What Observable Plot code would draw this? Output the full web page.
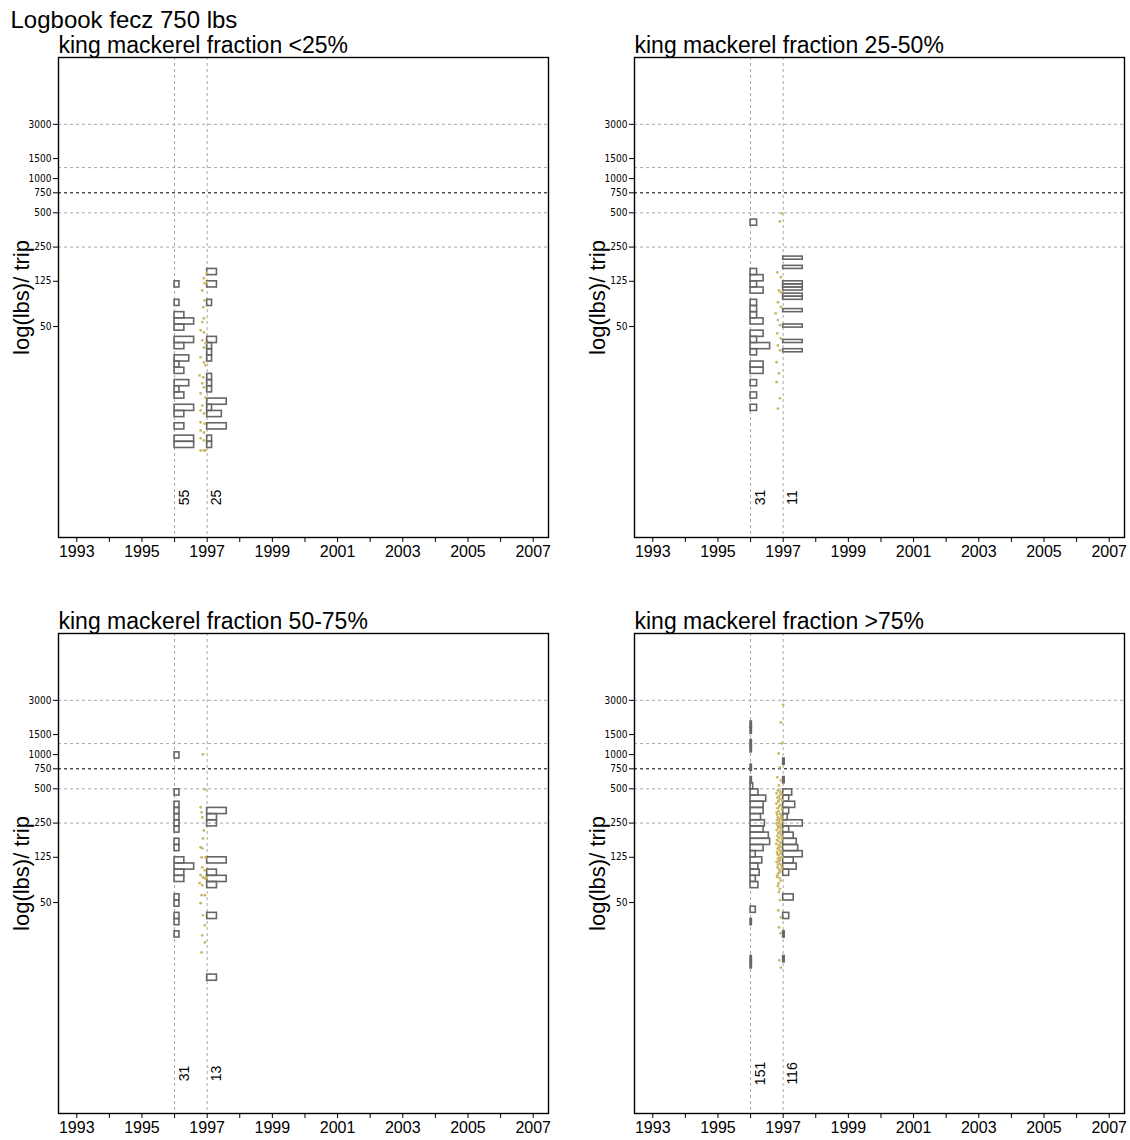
<!DOCTYPE html>
<html><head><meta charset="utf-8">
<script src="https://cdn.jsdelivr.net/npm/d3@7"></script>
<script src="https://cdn.jsdelivr.net/npm/@observablehq/plot@0.6"></script>
<style>
body{margin:0;background:#fff;overflow:hidden;}
#wrap{position:relative;width:1130px;height:1140px;background:#fff;}
.p{position:absolute;}
</style></head><body><div id="wrap"></div>
<script>
// ---------------- data ----------------
const mainTitle = "Logbook fecz 750 lbs";
const yLabel = "log(lbs)/ trip";
const panelTitles = ["king mackerel fraction <25%", "king mackerel fraction 25-50%",
                     "king mackerel fraction 50-75%", "king mackerel fraction >75%"];
const histYears = [1996, 1997];
const xTickYears = [1993,1994,1995,1996,1997,1998,1999,2000,2001,2002,2003,2004,2005,2006,2007];
const yTickValues = [50, 125, 250, 500, 750, 1000, 1500, 3000];
const greyRefLines = [3000, 1250, 500, 250];
const blackRefLine = [750];
const tripCounts = [[55, 25], [31, 11], [31, 13], [151, 116]];

// histogram bins of log(lbs) (natural log): bin width, upper edge of first bin (lbs), counts top -> down
const tl96Bin = 0.125,  tl96Top = 125,    tl96Counts = [1,0,0,1,0,2,4,2,0,4,2,0,3,1,2,0,3,1,2,0,4,2,0,2,0,4,4];
const tl97Bin = 0.125,  tl97Top = 160.5,  tl97Counts = [2,0,2,0,0,1,0,0,0,0,0,2,1,1,1,0,0,1,1,1,0,4,1,3,0,4,0,1,1];
const tr96Bin = 0.125,  tr96Top = 436.3,  tr96Counts = [1,0,0,0,0,0,0,0,1,2,1,2,0,1,1,1,2,0,2,1,3,1,0,2,2,0,1,0,1,0,1];
const tr97Bin = 0.0625, tr97Top = 206.1,  tr97Counts = [1,0,0,1,0,0,0,0,1,1,1,0,1,1,0,0,0,1,0,0,0,0,1,0,0,0,0,1,0,0,1];
const bl96Bin = 0.125,  bl96Top = 1046.6, bl96Counts = [1,0,0,0,0,0,1,0,1,1,1,1,1,0,1,1,0,2,4,2,2,0,0,1,1,0,1,1,0,1];
const bl97Bin = 0.125,  bl97Top = 339.8,  bl97Counts = [2,1,1,0,0,0,0,0,2,0,1,2,1,0,0,0,0,1,0,0,0,0,0,0,0,0,0,1];
const br96Bin = 0.125,  br96Top = 1955.8, br96Counts = [1,1,0,1,1,0,0,1,0,1,2,6,12,10,10,8,11,10,14,15,10,4,9,6,7,4,6,0,0,0,4,0,1,0,0,0,0,0,1,1];
const br97Bin = 0.125,  br97Top = 923.6,  br97Counts = [1,0,0,1,0,6,4,8,4,3,13,4,7,9,10,13,7,9,4,0,0,0,7,0,0,4,0,0,1,0,0,0,1];

// individual trips: [decimal year, lbs]
const tlTrips = [[1996.99,148],[1996.90,133],[1996.99,122],[1996.92,120],[1996.85,104],[1996.92,85],[1996.88,74],[1996.90,59],[1996.85,54.7],[1996.80,46.3],[1996.90,44.4],[1996.85,37.8],[1996.95,35.6],[1996.90,32.7],[1996.80,26.8],[1996.90,24.2],[1996.95,22.8],[1996.77,18.6],[1996.88,17.9],[1996.85,15.8],[1996.90,14.6],[1996.80,12.9],[1996.95,11.9],[1996.85,10.1],[1996.80,9.15],[1996.90,8.6],[1996.80,7.2],[1996.92,7.0],[1996.80,6.1],[1996.90,5.85],[1996.80,5.2],[1996.90,4.98],[1996.80,4.07],[1996.90,4.07],[1996.95,4.07]];
const trTrips = [[1996.90,420],[1996.96,495],[1996.82,150],[1996.93,136],[1996.87,104],[1996.93,100],[1996.84,81.6],[1996.93,74.4],[1996.77,65.4],[1996.84,57],[1996.90,51.5],[1996.82,43.6],[1996.93,39.3],[1996.84,34.1],[1996.90,30.9],[1996.80,24.3],[1996.87,19.4],[1996.80,16.2],[1996.90,11.7],[1996.84,9.5]];
const blTrips = [[1996.87,1005],[1996.93,494],[1996.80,343],[1996.83,311],[1996.85,280],[1996.90,215],[1996.87,183],[1996.80,153],[1996.85,150],[1996.83,125],[1996.95,125],[1996.85,102],[1996.93,96],[1996.80,87],[1996.87,83],[1996.93,81.6],[1996.97,83],[1996.77,74],[1996.85,71],[1996.83,58],[1996.93,58],[1996.80,49.4],[1996.87,38.6],[1996.93,31.5],[1996.85,25.7],[1996.93,22.3],[1996.83,18.2]];
const brTrips = [[1997.00,2740],[1996.93,1921],[1996.96,1256],[1996.86,1025],[1996.90,772],[1996.82,631],[1996.93,593],[1996.87,536],
 [1996.84,485],[1996.91,472],[1996.80,458],[1996.95,446],[1996.87,431],[1996.82,418],[1996.90,409],[1996.97,396],[1996.85,384],[1996.79,371],[1996.92,362],[1996.88,349],[1996.83,338],[1996.96,331],[1996.86,318],[1996.80,309],[1996.91,301],[1996.94,289],[1996.84,281],[1996.89,273],[1996.81,266],[1996.97,259],[1996.86,251],[1996.92,243],[1996.83,237],[1996.88,230],[1996.95,222],[1996.80,217],[1996.90,211],[1996.85,204],[1996.93,198],[1996.82,193],[1996.88,186],[1996.96,181],[1996.84,175],[1996.91,170],[1996.79,164],[1996.87,159],[1996.94,154],[1996.83,149],[1996.89,144],[1996.81,139],[1996.92,135],[1996.86,130],[1996.97,126],[1996.84,122],[1996.90,118],[1996.80,114],[1996.88,110],[1996.94,106],[1996.83,102],[1996.87,98],[1996.91,94],[1996.85,90],[1996.82,86],[1996.89,82],[1996.93,78],[1996.86,74],[1996.84,70],[1996.90,66],[1996.87,62],
 [1996.92,452],[1996.86,392],[1996.90,356],[1996.82,296],[1996.95,276],[1996.88,262],[1996.80,248],[1996.93,233],[1996.85,226],[1996.89,207],[1996.97,190],[1996.81,178],[1996.92,166],[1996.86,152],[1996.95,141],[1996.83,133],[1996.91,124],[1996.87,116],[1996.84,108],[1996.96,100],[1996.89,92],[1996.81,84],
 [1996.90,52.6],[1996.85,42.6],[1996.93,37],[1996.87,30.3],[1996.92,26.8],[1996.88,15.5],[1996.93,13.4]];

// ---------------- drawing ----------------
const BAR_MAX = 0.6;          // longest bar, in years
const COUNT_LABEL_Y = 1.57;   // lbs position of the trip-count labels
function bars(bin, top, counts, year) {
  const m = d3.max(counts);
  return counts.map((n, i) => ({
    year, n,
    hi: top * Math.exp(-bin * i),
    lo: top * Math.exp(-bin * (i + 1)),
    len: n / m * BAR_MAX
  })).filter(d => d.n > 0);
}
const panels = [
  {title: panelTitles[0], h: [[tl96Bin, tl96Top, tl96Counts], [tl97Bin, tl97Top, tl97Counts]], trips: tlTrips, n: tripCounts[0], left: 0,   top: 0,   w: 576, hgt: 576, mr: 28, mb: 39, main: true},
  {title: panelTitles[1], h: [[tr96Bin, tr96Top, tr96Counts], [tr97Bin, tr97Top, tr97Counts]], trips: trTrips, n: tripCounts[1], left: 576, top: 0,   w: 554, hgt: 576, mr: 6,  mb: 39},
  {title: panelTitles[2], h: [[bl96Bin, bl96Top, bl96Counts], [bl97Bin, bl97Top, bl97Counts]], trips: blTrips, n: tripCounts[2], left: 0,   top: 576, w: 576, hgt: 564, mr: 28, mb: 27},
  {title: panelTitles[3], h: [[br96Bin, br96Top, br96Counts], [br97Bin, br97Top, br97Counts]], trips: brTrips, n: tripCounts[3], left: 576, top: 576, w: 554, hgt: 564, mr: 6,  mb: 27}
];
const wrap = document.getElementById("wrap");
const FONT = "'Liberation Sans', Arial, sans-serif";
const NARROW = "'Liberation Sans Narrow', 'DejaVu Sans Condensed', 'Arial Narrow', sans-serif";
for (const p of panels) {
  const barData = [...bars(...p.h[0], histYears[0]), ...bars(...p.h[1], histYears[1])];
  const labels = histYears.map((y, i) => ({x: y + 0.3, n: p.n[i]}));
  const marks = [
    Plot.ruleY(greyRefLines, {stroke: "#a8a8a8", strokeDasharray: "3,3"}),
    Plot.ruleY(blackRefLine, {stroke: "#000", strokeDasharray: "3,3"}),
    Plot.ruleX(histYears, {stroke: "#a8a8a8", strokeDasharray: "3,3"}),
    Plot.rect(barData, {x1: "year", x2: d => d.year + d.len, y1: "lo", y2: "hi", stroke: "#666", strokeWidth: 1.6, fill: "none"}),
    Plot.dot(p.trips, {x: d => d[0], y: d => d[1], r: 1.4, fill: "#cbb862", stroke: null}),
    Plot.text(labels, {x: "x", y: () => COUNT_LABEL_Y, text: d => String(d.n), rotate: -90, fontSize: 14, fontFamily: FONT}),
    Plot.frame({stroke: "#000", strokeWidth: 1.4}),
    Plot.axisX({ticks: xTickYears, tickFormat: d => (d % 2 ? String(d) : ""), tickSize: 5, tickPadding: 3, fontSize: 16, label: null, fontFamily: FONT}),
    Plot.axisY({ticks: yTickValues, text: null, tickSize: 5, label: null}),
    Plot.text(yTickValues, {y: d => d, frameAnchor: "left", dx: -7, textAnchor: "end", text: d => String(d), fontSize: 10, fontFamily: NARROW}),
    Plot.text([yLabel], {frameAnchor: "left", dx: -37, rotate: -90, textAnchor: "middle", fontSize: 22, fontFamily: FONT}),
    Plot.text([p.title], {frameAnchor: "top-left", dy: -5, lineAnchor: "bottom", textAnchor: "start", fontSize: 23, fontFamily: FONT})
  ];
  if (p.main) marks.push(Plot.text([mainTitle], {frameAnchor: "top-left", dx: -48, dy: -30, lineAnchor: "bottom", textAnchor: "start", fontSize: 24, fontFamily: FONT}));
  const chart = Plot.plot({
    width: p.w, height: p.hgt,
    marginLeft: 58, marginTop: 57, marginRight: p.mr, marginBottom: p.mb,
    x: {domain: [1992.44, 2007.47]},
    y: {type: "log", domain: [0.698, 11614]},
    style: {fontFamily: FONT, background: "white", overflow: "visible", color: "#000"},
    marks
  });
  const div = document.createElement("div");
  div.className = "p";
  div.style.left = p.left + "px";
  div.style.top = p.top + "px";
  div.appendChild(chart);
  wrap.appendChild(div);
}
</script></body></html>
